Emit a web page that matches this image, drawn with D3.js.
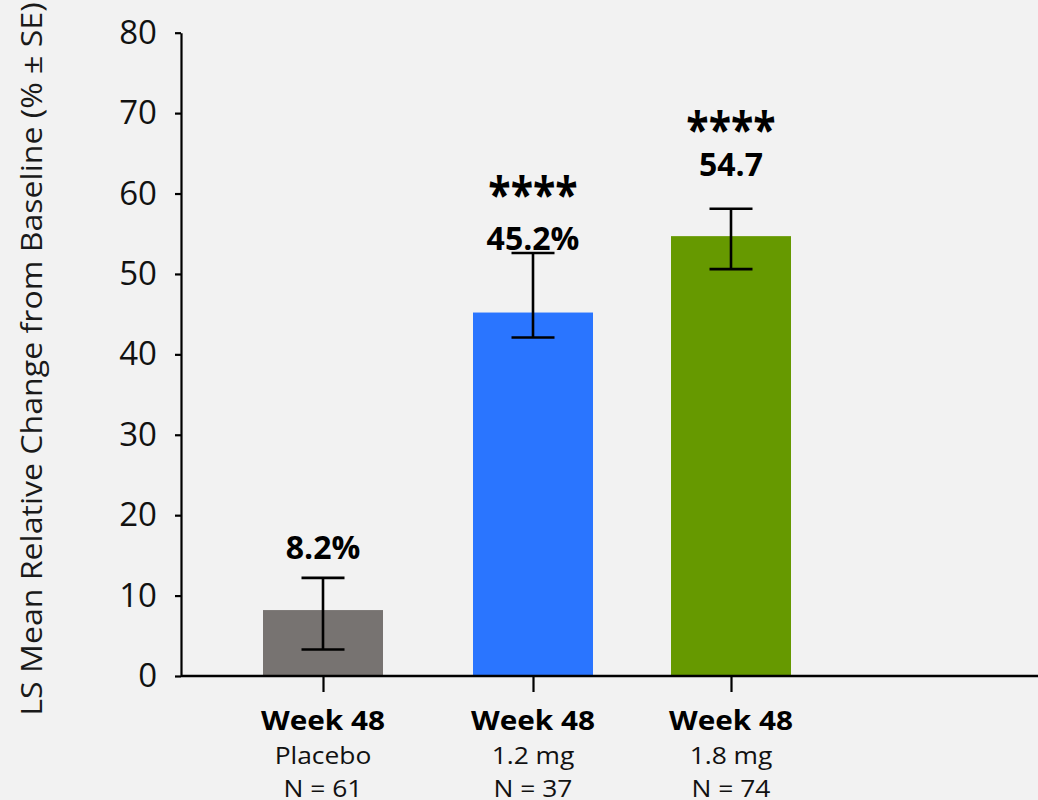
<!DOCTYPE html>
<html>
<head>
<meta charset="utf-8">
<script src="https://cdn.jsdelivr.net/npm/d3@7"></script>
<style>
  html, body { margin: 0; padding: 0; background: #f2f2f2; }
  svg { display: block; font-family: "Open Sans", "Noto Sans", sans-serif; }
</style>
</head>
<body>
<svg id="chart" width="1038" height="800"></svg>
<script>
// Treatment groups at week 48
const groups = ["Placebo", "1.2 mg", "1.8 mg"];
const weekLabels = ["Week 48", "Week 48", "Week 48"];
const sampleSizes = ["N = 61", "N = 37", "N = 74"];

// LS mean relative change (%) and the ± SE whisker ends
const means = [8.2, 45.2, 54.7];
const seLow = [3.3, 42.1, 50.6];
const seHigh = [12.2, 52.6, 58.1];

// Value labels and significance markers
const valueLabels = ["8.2%", "45.2%", "54.7"];
const significance = ["", "****", "****"];

const yTicks = [0, 10, 20, 30, 40, 50, 60, 70, 80];

const barColors = ["#777371", "#2a75ff", "#669900"];

const svg = d3.select("#chart");
const axisY0 = 676, axisY80 = 32.7;
const axisX = 181;

const y = d3.scaleLinear().domain([0, 80]).range([axisY0, axisY80]);
const x = d3.scaleOrdinal().domain(groups).range([323, 533, 731]);
const barWidth = 120;

// bars
svg.selectAll("rect.bar")
  .data(groups)
  .join("rect")
  .attr("class", "bar")
  .attr("x", d => x(d) - barWidth / 2)
  .attr("width", barWidth)
  .attr("y", (d, i) => y(means[i]))
  .attr("height", (d, i) => y(0) - y(means[i]))
  .attr("fill", (d, i) => barColors[i]);

// error bars
const capHalf = 21.5;
const err = svg.append("g").attr("stroke", "#000").attr("stroke-width", 2.6);
groups.forEach((g, i) => {
  const cx = x(g);
  err.append("line").attr("x1", cx).attr("x2", cx).attr("y1", y(seLow[i])).attr("y2", y(seHigh[i]));
  err.append("line").attr("x1", cx - capHalf).attr("x2", cx + capHalf).attr("y1", y(seHigh[i])).attr("y2", y(seHigh[i]));
  err.append("line").attr("x1", cx - capHalf).attr("x2", cx + capHalf).attr("y1", y(seLow[i])).attr("y2", y(seLow[i]));
});

// value labels above bars (pixel lift above each bar top)
const labelLift = [51, 63, 60];
const starLift = [0, 38, 29];
svg.selectAll("text.value")
  .data(groups)
  .join("text")
  .attr("class", "value")
  .attr("x", d => x(d))
  .attr("y", (d, i) => y(means[i]) - labelLift[i])
  .attr("text-anchor", "middle")
  .attr("font-size", 32)
  .attr("font-weight", 700)
  .attr("fill", "#000")
  .text((d, i) => valueLabels[i]);

svg.selectAll("text.sig")
  .data(groups)
  .join("text")
  .attr("class", "sig")
  .attr("transform", (d, i) => `translate(${x(d)},${y(means[i]) - labelLift[i] - starLift[i]}) scale(1,1.2)`)
  .attr("text-anchor", "middle")
  .attr("font-size", 41)
  .attr("font-weight", 700)
  .attr("fill", "#000")
  .text((d, i) => significance[i]);

// y axis
const yAxis = d3.axisLeft(y).tickValues(yTicks).tickSize(6).tickPadding(18).tickSizeOuter(0);
const gy = svg.append("g").attr("transform", `translate(${axisX},0)`).call(yAxis);
gy.select(".domain").attr("stroke", "#000").attr("stroke-width", 2.2);
gy.selectAll(".tick line").attr("stroke", "#000").attr("stroke-width", 2.2);
gy.selectAll(".tick text")
  .attr("font-family", "'Open Sans', sans-serif")
  .attr("font-size", 33)
  .attr("fill", "#111");

// x axis baseline with ticks at each group
const xAxis = d3.axisBottom(x).tickSize(16).tickSizeOuter(0).tickFormat("");
const gx = svg.append("g").attr("transform", `translate(0,${axisY0})`).call(xAxis);
gx.select(".domain").attr("d", `M${axisX},0H1038`).attr("stroke", "#000").attr("stroke-width", 2.6);
gx.selectAll(".tick line").attr("stroke", "#000").attr("stroke-width", 2.2);

// category labels
const cat = svg.append("g").attr("text-anchor", "middle").attr("fill", "#000");
groups.forEach((g, i) => {
  cat.append("text").attr("transform", `translate(${x(g)},730) scale(1.1,1)`)
    .attr("font-size", 27).attr("font-weight", 700).text(weekLabels[i]);
  cat.append("text").attr("transform", `translate(${x(g)},764) scale(1.1,1)`)
    .attr("font-size", 24).attr("fill", "#111").text(g);
  cat.append("text").attr("transform", `translate(${x(g)},797) scale(1.1,1)`)
    .attr("font-size", 24).attr("fill", "#111").text(sampleSizes[i]);
});

// y axis title
svg.append("text")
  .attr("transform", "translate(42,359) rotate(-90) scale(1.07,1)")
  .attr("text-anchor", "middle")
  .attr("font-size", 30)
  .attr("fill", "#1a1a1a")
  .text("LS Mean Relative Change from Baseline (% ± SE)");
</script>
</body>
</html>
